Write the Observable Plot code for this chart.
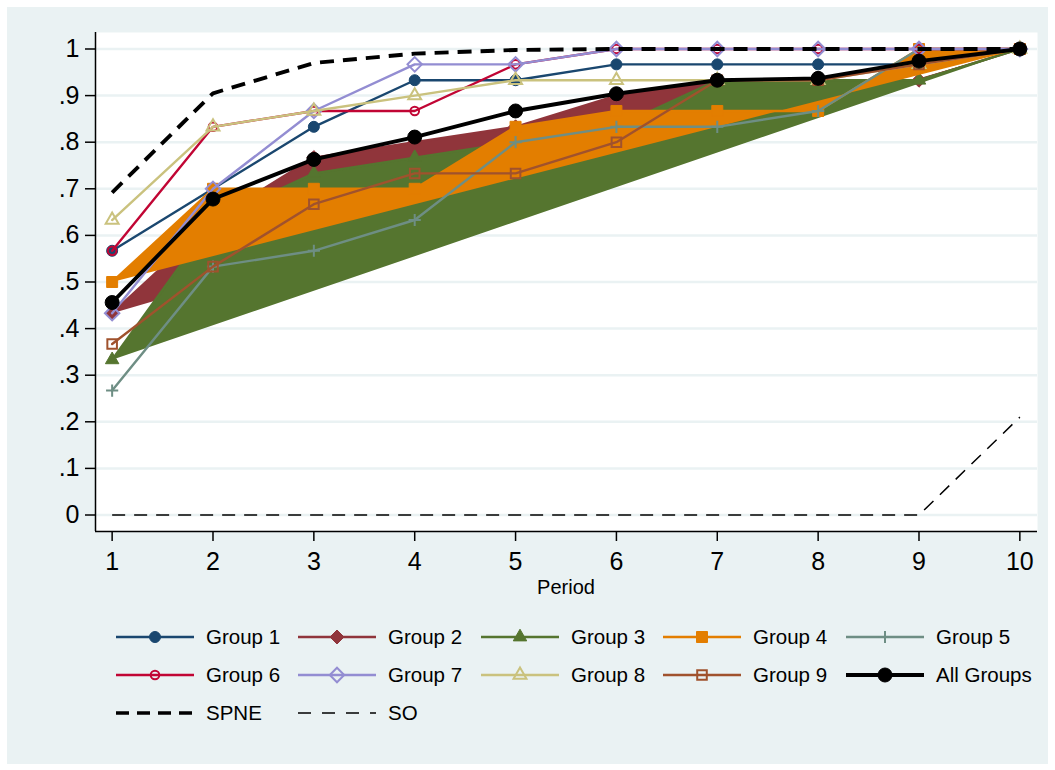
<!DOCTYPE html>
<html><head><meta charset="utf-8">
<script src="https://cdn.jsdelivr.net/npm/d3@7"></script>
<script src="https://cdn.jsdelivr.net/npm/@observablehq/plot@0.6"></script>
<style>
body{margin:0;background:#fff;font-family:"Liberation Sans",Arial,sans-serif;}
#bg{position:absolute;left:7px;top:7px;width:1041px;height:757px;background:#eaf2f3;}
#chart{position:absolute;left:0;top:0;}
#legend{position:absolute;left:0;top:0;}
.item{position:absolute;height:26px;display:flex;align-items:center;}
.item span{font-size:20.5px;color:#000;margin-left:12px;white-space:nowrap;}
</style></head><body>
<div id="bg"></div><div id="chart"></div><div id="legend"></div>
<script>
// ---------- data ----------
const periods = [1,2,3,4,5,6,7,8,9,10];
const yTicks = [0,0.1,0.2,0.3,0.4,0.5,0.6,0.7,0.8,0.9,1];
const yTickLabels = ["0",".1",".2",".3",".4",".5",".6",".7",".8",".9","1"];
const seriesNames = ["Group 1","Group 2","Group 3","Group 4","Group 5","Group 6","Group 7","Group 8","Group 9","All Groups","SPNE","SO"];
const group1 = [0.567,0.700,0.833,0.933,0.933,0.967,0.967,0.967,0.967,1];
const group2 = [0.433,0.633,0.767,0.800,0.833,0.900,0.933,0.933,0.933,1];
const group3 = [0.333,0.633,0.733,0.767,0.800,0.833,0.933,0.933,0.933,1];
const group4 = [0.500,0.700,0.700,0.700,0.833,0.867,0.867,0.867,1.000,1];
const group5 = [0.267,0.533,0.567,0.633,0.800,0.833,0.833,0.867,1.000,1];
const group6 = [0.567,0.833,0.867,0.867,0.967,1,1,1,1,1];
const group7 = [0.433,0.700,0.867,0.967,0.967,1,1,1,1,1];
const group8 = [0.633,0.833,0.867,0.900,0.933,0.933,0.933,0.933,0.967,1];
const group9 = [0.367,0.533,0.667,0.733,0.733,0.800,0.933,0.933,0.967,1];
const allGroups = [0.456,0.678,0.763,0.811,0.867,0.904,0.933,0.937,0.974,1];
const spne = [0.692,0.905,0.970,0.990,0.998,1,1,1,1,1];
const so = [0,0,0,0,0,0,0,0,0,0.21];

// ---------- styles ----------
const seriesValues = [group1,group2,group3,group4,group5,group6,group7,group8,group9,allGroups,spne,so];
const styles = [
  {color:"#1a476f", symbol:"circle",   r:5.5, filled:true,  width:2.4},
  {color:"#90353b", symbol:"diamond2", r:6.3, filled:true,  width:2.4, area:true},
  {color:"#55752f", symbol:"triangle", r:5.0, filled:true,  width:2.4, area:true},
  {color:"#e37e00", symbol:"square",   r:6.2, filled:true,  width:2.4, area:true},
  {color:"#6e8e84", symbol:"plus",     r:4.0, filled:false, width:2.4},
  {color:"#c10534", symbol:"circle",   r:4.3, filled:false, width:2.4},
  {color:"#938dd2", symbol:"diamond2", r:6.5, filled:false, width:2.4},
  {color:"#cac27e", symbol:"triangle", r:4.8, filled:false, width:2.4},
  {color:"#a0522d", symbol:"square",   r:5.4, filled:false, width:2.4},
  {color:"#000000", symbol:"circle",   r:7.0, filled:true,  width:3.9},
  {color:"#000000", dash:"14,9", width:3.9},
  {color:"#000000", dash:"13,9", width:1.5}
];

const tables = seriesValues.map(vals => periods.map((p,i)=>({period:p, value:vals[i]})));
const xDomain = [0.835, 10.175];
const yDomain = [-0.0354, 1.0354];

const marks = [
  Plot.frame({fill:"white", stroke:"none"}),
  Plot.gridY(yTicks, {stroke:"#eaf2f3", strokeOpacity:1, strokeWidth:2.5}),
];
tables.forEach((rows, k) => {
  const s = styles[k];
  marks.push(Plot.line(rows, {
    x:"period", y:"value", stroke:s.color, strokeWidth:s.width,
    fill: s.area ? s.color : "none",
    strokeDasharray: s.dash || null,
    strokeLinecap: s.dash ? "butt" : "round"
  }));
  if (s.symbol) {
    marks.push(Plot.dot(rows, {
      x:"period", y:"value", symbol:s.symbol, r:s.r,
      fill: s.filled ? s.color : "none", stroke:s.color,
      strokeWidth: s.filled ? 1 : 2
    }));
  }
});
marks.push(
  Plot.ruleX([xDomain[0]], {y1:yDomain[0], y2:yDomain[1], stroke:"#000", strokeWidth:1.5}),
  Plot.ruleY([yDomain[0]], {stroke:"#000", strokeWidth:1.5}),
  Plot.axisX({ticks:periods, tickSize:10, tickPadding:11, fontSize:25, tickFormat:d=>String(d), label:null, strokeWidth:1.5}),
  Plot.axisY({ticks:yTicks, tickSize:10, tickPadding:6, fontSize:25, tickFormat:(d,i)=>yTickLabels[i], label:null, strokeWidth:1.5}),
  Plot.text(["Period"], {x:()=>5.5, frameAnchor:"bottom", dy:62, fontSize:20, fill:"#000"})
);

const chart = Plot.plot({
  width:1055, height:610,
  marginLeft:95, marginRight:18, marginTop:32, marginBottom:79,
  style:{background:"transparent", fontFamily:"'Liberation Sans', Arial, sans-serif", color:"#000", overflow:"visible"},
  x:{domain:xDomain},
  y:{domain:yDomain},
  marks
});
document.getElementById("chart").append(chart);

// ---------- legend ----------
const symbolTypes = {circle:d3.symbolCircle, diamond2:d3.symbolDiamond2, triangle:d3.symbolTriangle, square:d3.symbolSquare, plus:d3.symbolPlus};
const colX = [116, 298, 481, 663, 846];
const rowY = [637, 675, 713];
const legend = d3.select("#legend");
seriesNames.forEach((name, j) => {
  const s = styles[j];
  const col = j % 5, row = Math.floor(j / 5);
  const item = legend.append("div").attr("class","item")
    .style("left", colX[col] + "px").style("top", (rowY[row] - 13) + "px");
  const svg = item.append("svg").attr("width", 78).attr("height", 26);
  svg.append("line").attr("x1", 0).attr("x2", 78).attr("y1", 13).attr("y2", 13)
    .attr("stroke", s.color).attr("stroke-width", s.dash ? (s.width > 2 ? 3.5 : 1.5) : (j === 9 ? 3.8 : 2.6))
    .attr("stroke-dasharray", s.dash ? (s.width > 2 ? "13,8" : "13,11") : null);
  if (s.symbol) {
    svg.append("path").attr("transform", "translate(39,13)")
      .attr("d", d3.symbol().type(symbolTypes[s.symbol]).size(Math.PI * s.r * s.r)())
      .attr("fill", s.filled ? s.color : "none").attr("stroke", s.color)
      .attr("stroke-width", s.filled ? 1 : 2);
  }
  item.append("span").text(name);
});
</script>
</body></html>
